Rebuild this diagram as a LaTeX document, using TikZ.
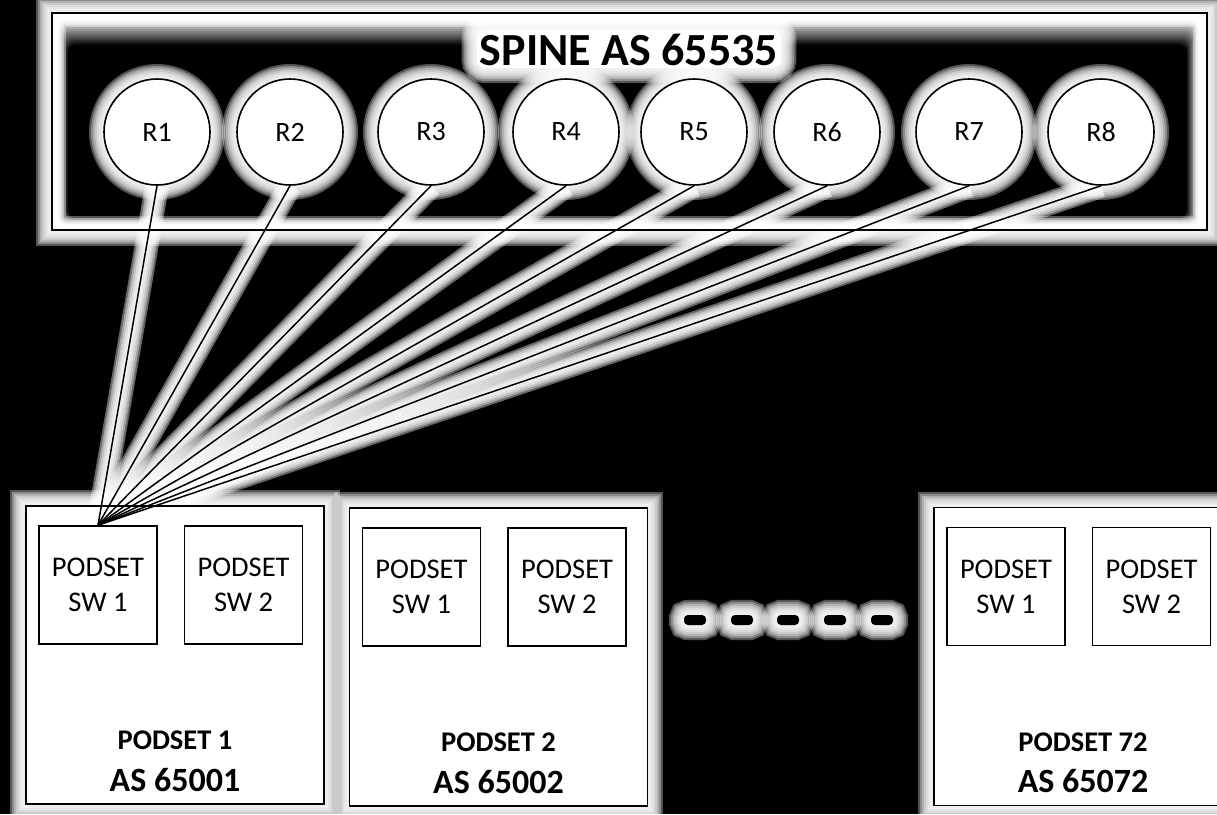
\documentclass[tikz,border=0pt]{standalone}
\usepackage{fontspec}
\setmainfont{Carlito}
\usetikzlibrary{positioning,calc}
\pgfdeclarelayer{bg}
\pgfdeclarelayer{glow}
\pgfsetlayers{bg,glow,main}
\newcommand\haloof[1]{%
  \foreach \w in {30pt,26pt,22pt,18pt,14pt,10pt,6pt}
    {\path[draw=white,draw opacity=.33,line width=\w] #1;}}
\newcommand\linehaloof[1]{%
  \foreach \w in {24pt,20pt,16pt,12pt,8pt,4pt}
    {\path[draw=white,draw opacity=.4,line width=\w] #1;}}
\tikzset{
  router/.style={circle,draw,line width=1.6pt,fill=white,minimum size=106pt,
    inner sep=0pt,font=\fontsize{28}{30}\selectfont},
  podbox/.style={draw,line width=1.6pt,fill=white,minimum width=298pt,
    minimum height=298pt,inner sep=0pt},
  swbox/.style={draw,line width=1.6pt,fill=white,minimum width=118pt,
    minimum height=118pt,inner sep=0pt,align=center,font=\fontsize{28.5}{35}\selectfont},
  podname/.style={inner sep=0pt,font=\bfseries\fontsize{28.5}{30}\selectfont},
  podas/.style={inner sep=0pt,font=\bfseries\fontsize{34}{36}\selectfont},
  link/.style={draw,line width=1.5pt},
  dashbox/.style={fill=black,rounded corners=4pt,minimum width=22pt,
    minimum height=10pt,inner sep=0pt}
}
\begin{document}
\begin{tikzpicture}[x=1pt,y=-1pt,node distance=26pt]
  \useasboundingbox (0,0) rectangle (1217,814);
  \node[minimum width=1155pt,minimum height=217pt,inner sep=0pt,draw,line width=1.6pt] (spine) at (629.5,121.5) {};
  \node[inner sep=0pt,anchor=base,font=\bfseries\fontsize{46}{48}\selectfont] (title) at (629,65) {SPINE AS 65535};
  \foreach \i/\x in {1/157,2/290,3/431,4/566,5/694,6/827,7/969,8/1101}
    \node[router] (r\i) at (\x,132) {R\i};

  \node[podbox] (pod1) at (175,655) {};
  \node[swbox,below right=20pt and 13pt of pod1.north west] (sw11) {PODSET\\SW 1};
  \node[swbox,right=of sw11] (sw12) {PODSET\\SW 2};
  \node[podas,above=13pt of pod1.south] (as1) {AS 65001};
  \node[podname,above=18pt of as1] (name1) {PODSET 1};

  \node[podbox] (pod2) at (498.5,657) {};
  \node[swbox,below right=20pt and 13pt of pod2.north west] (sw21) {PODSET\\SW 1};
  \node[swbox,right=of sw21] (sw22) {PODSET\\SW 2};
  \node[podas,above=13pt of pod2.south] (as2) {AS 65002};
  \node[podname,above=18pt of as2] (name2) {PODSET 2};

  \node[podbox] (pod72) at (1083,656.5) {};
  \node[swbox,below right=20pt and 13pt of pod72.north west] (sw721) {PODSET\\SW 1};
  \node[swbox,right=of sw721] (sw722) {PODSET\\SW 2};
  \node[podas,above=13pt of pod72.south] (as72) {AS 65072};
  \node[podname,above=18pt of as72] (name72) {PODSET 72};

  \foreach \i/\x in {1/695,2/742,3/788,4/835,5/882}
    \node[dashbox] (d\i) at (\x,620) {};

  \foreach \i in {1,...,8}
    \draw[link] (r\i.south) -- (sw11.north);

  \begin{pgfonlayer}{bg}
    \fill[black] (0,0) rectangle (1217,814);
    \fill[white] (spine.north west) rectangle (spine.south east);
    \foreach \k in {0,...,12} {
      \pgfmathtruncatemacro\shade{\k*100/12}
      \fill[black!\shade,rounded corners=8pt] ({57+\k*0.9},{18+\k*2.2}) rectangle ({1199-\k*1.0},{226-\k*0.7});
    }
  \end{pgfonlayer}
  \begin{pgfonlayer}{glow}
    \haloof{(spine.north west) rectangle (spine.south east)}
    \fill[white,rounded corners=8pt] ($(title.north west)+(-3,-3)$) rectangle ($(title.base east)+(3,3)$);
    \haloof{[rounded corners=8pt] ($(title.north west)+(-3,-3)$) rectangle ($(title.base east)+(3,3)$)}
    \foreach \i in {1,...,8} {
      \haloof{(r\i.center) circle (53pt)}
      \linehaloof{(r\i.south) -- (sw11.north)}
    }
    \foreach \p in {pod1,pod2,pod72} {
      \haloof{(\p.north west) rectangle (\p.south east)}
    }
    \foreach \i in {1,...,5} {
      \haloof{[rounded corners=4pt] (d\i.north west) rectangle (d\i.south east)}
    }
  \end{pgfonlayer}
\end{tikzpicture}
\end{document}
